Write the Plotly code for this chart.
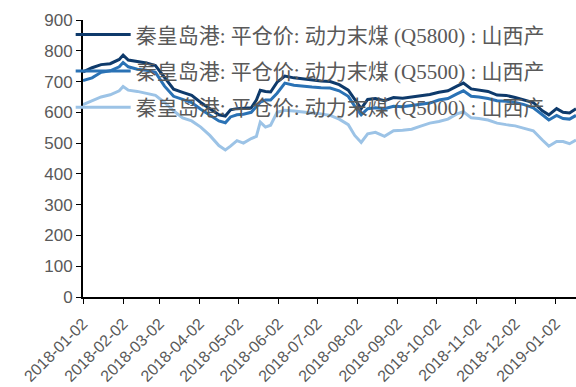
import plotly.graph_objects as go

# Trading dates sampled through the year
dates = [
    "2018-01-02", "2018-01-09", "2018-01-16", "2018-01-23", "2018-01-30", "2018-02-02",
    "2018-02-06", "2018-02-13", "2018-02-20", "2018-02-27", "2018-03-06", "2018-03-13",
    "2018-03-20", "2018-03-27", "2018-04-03", "2018-04-10", "2018-04-17", "2018-04-22",
    "2018-04-26", "2018-05-01", "2018-05-06", "2018-05-12", "2018-05-16", "2018-05-19",
    "2018-05-23", "2018-05-27", "2018-06-01", "2018-06-07", "2018-06-14", "2018-06-21",
    "2018-06-28", "2018-07-05", "2018-07-12", "2018-07-19", "2018-07-26", "2018-07-31",
    "2018-08-05", "2018-08-10", "2018-08-16", "2018-08-23", "2018-08-30", "2018-09-06",
    "2018-09-13", "2018-09-20", "2018-09-27", "2018-10-04", "2018-10-11", "2018-10-18",
    "2018-10-23", "2018-10-29", "2018-11-04", "2018-11-11", "2018-11-18", "2018-11-25",
    "2018-12-02", "2018-12-09", "2018-12-16", "2018-12-23", "2018-12-28", "2019-01-03",
    "2019-01-08", "2019-01-13", "2019-01-18",
]

q5800 = [
    731, 745, 755, 758, 772, 786, 770, 765, 760, 752, 712, 675,
    665, 655, 632, 612, 592, 588, 608, 612, 614, 615, 640, 672,
    668, 666, 698, 718, 712, 708, 705, 702, 700, 690, 672, 640,
    612, 642, 645, 638, 648, 646, 650, 655, 658, 665, 670, 685,
    695, 676, 672, 668, 656, 655, 648, 640, 632, 605, 592, 612,
    600, 598, 612,
]

q5500 = [
    703, 712, 730, 735, 748, 762, 748, 740, 737, 730, 685, 652,
    642, 632, 610, 592, 572, 566, 585, 592, 594, 600, 617, 633,
    640, 640, 662, 695, 688, 684, 682, 680, 679, 670, 652, 620,
    592, 612, 615, 612, 620, 618, 622, 626, 630, 640, 645, 660,
    670, 652, 650, 645, 638, 636, 632, 625, 615, 592, 575, 590,
    580, 578, 590,
]

q5000 = [
    625, 637, 650, 657, 670, 684, 672, 668, 662, 655, 632, 605,
    582, 572, 552, 525, 492, 478, 490, 508, 500, 515, 522, 568,
    552, 558, 600, 607, 604, 600, 598, 595, 590, 578, 560, 525,
    502, 530, 535, 522, 540, 542, 545, 555, 565, 570, 578, 595,
    602, 582, 580, 575, 565, 560, 556, 548, 540, 510, 490, 505,
    505, 498, 510,
]

series_names = [
    "秦皇岛港: 平仓价: 动力末煤 (Q5800) : 山西产",
    "秦皇岛港: 平仓价: 动力末煤 (Q5500) : 山西产",
    "秦皇岛港: 平仓价: 动力末煤 (Q5000) : 山西产",
]
series_colors = ["#0e3a6b", "#2a72b5", "#9cc3e6"]

tick_dates = [
    "2018-01-02", "2018-02-02", "2018-03-02", "2018-04-02", "2018-05-02",
    "2018-06-02", "2018-07-02", "2018-08-02", "2018-09-02", "2018-10-02",
    "2018-11-02", "2018-12-02", "2019-01-02",
]
y_ticks = [0, 100, 200, 300, 400, 500, 600, 700, 800, 900]

fig = go.Figure()
for i, (name, vals, col) in enumerate(zip(series_names, [q5800, q5500, q5000], series_colors)):
    fig.add_trace(go.Scatter(
        x=dates, y=vals, mode="lines", name=name, legendgroup=f"g{i}",
        line=dict(color=col, width=3),
    ))

fig.update_layout(
    width=576, height=387,
    margin=dict(l=83, r=0, t=20, b=90),
    paper_bgcolor="white", plot_bgcolor="white",
    showlegend=True,
    legend=dict(
        x=-0.025, y=1.02, xanchor="left", yanchor="top",
        bgcolor="rgba(0,0,0,0)",
        font=dict(family="Liberation Serif, Noto Sans CJK SC", size=21, color="#595959"),
        itemwidth=55, tracegroupgap=6,
    ),
    xaxis=dict(
        range=["2018-01-02", "2019-01-18"],
        tickmode="array", tickvals=tick_dates, ticktext=tick_dates,
        tickangle=-45, ticks="outside", ticklen=5, tickcolor="black",
        ticklabelstandoff=4, automargin=False,
        showline=True, linecolor="black", linewidth=2,
        showgrid=False, zeroline=False,
        tickfont=dict(family="Liberation Sans, Arial", size=16, color="#595959"),
    ),
    yaxis=dict(
        range=[0, 900], tickvals=y_ticks, automargin=False,
        ticks="outside", ticklen=5, tickcolor="black",
        showline=True, linecolor="black", linewidth=2,
        showgrid=False, zeroline=False,
        tickfont=dict(family="Liberation Sans, Arial", size=17, color="#595959"),
    ),
)

fig.write_html("out.html")
